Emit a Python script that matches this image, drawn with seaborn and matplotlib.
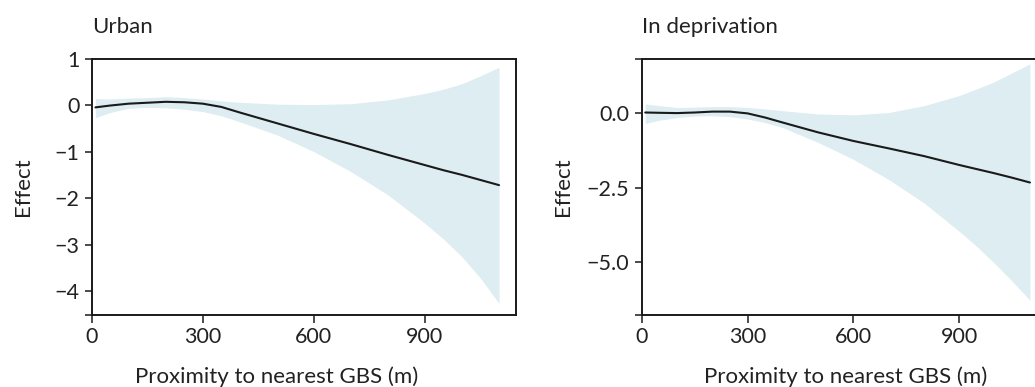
import matplotlib
matplotlib.use("Agg")
import matplotlib.pyplot as plt
import seaborn as sns
import pandas as pd

# Proximity to nearest GBS (m)
distance = [10, 50, 100, 150, 200, 250, 300, 350, 400, 500, 600, 700, 800, 900, 950, 1000, 1050, 1100]

# Urban effect with confidence band
urban_fit = [-0.05, -0.01, 0.03, 0.05, 0.07, 0.06, 0.03, -0.04, -0.16, -0.39, -0.62, -0.84, -1.07, -1.29, -1.40, -1.50, -1.61, -1.72]
urban_upper = [0.14, 0.13, 0.15, 0.16, 0.18, 0.16, 0.13, 0.09, 0.06, 0.02, 0.01, 0.03, 0.11, 0.25, 0.34, 0.46, 0.63, 0.81]
urban_lower = [-0.27, -0.16, -0.07, -0.05, -0.06, -0.09, -0.14, -0.23, -0.36, -0.64, -1.00, -1.43, -1.93, -2.54, -2.88, -3.26, -3.72, -4.26]

# In-deprivation effect with confidence band
depriv_fit = [0.03, 0.02, 0.01, 0.03, 0.06, 0.06, 0.00, -0.14, -0.31, -0.64, -0.93, -1.18, -1.44, -1.74, -1.88, -2.02, -2.17, -2.33]
depriv_upper = [0.32, 0.26, 0.20, 0.21, 0.23, 0.23, 0.20, 0.15, 0.09, -0.02, -0.05, 0.03, 0.26, 0.60, 0.83, 1.07, 1.37, 1.67]
depriv_lower = [-0.34, -0.23, -0.14, -0.09, -0.08, -0.11, -0.19, -0.31, -0.48, -0.98, -1.55, -2.23, -3.02, -3.98, -4.49, -5.06, -5.66, -6.30]

panel_titles = ["Urban", "In deprivation"]
x_ticks = [0, 300, 600, 900]
urban_yticks = [1, 0, -1, -2, -3, -4]
depriv_yticks = [0.0, -2.5, -5.0]

sns.set_theme(style="ticks")
plt.rcParams["font.family"] = ["Lato", "DejaVu Sans"]

INK = "#222222"
BAND = "#deedf1"

fig = plt.figure(figsize=(10.35, 3.87), dpi=100)
ax_l = fig.add_axes([0.0886, 0.1873, 0.410, 0.6615])
ax_r = fig.add_axes([0.620, 0.1873, 0.3908, 0.6615])

panels = [
    (ax_l, urban_fit, urban_upper, urban_lower, (-4.5, 1.0), urban_yticks,
     [f"{v:g}".replace("-", "\u2212") for v in urban_yticks], -0.163, 0.436),
    (ax_r, depriv_fit, depriv_upper, depriv_lower, (-6.78, 1.85), depriv_yticks,
     [f"{v:.1f}".replace("-", "\u2212") for v in depriv_yticks], -0.1946, 0.504),
]

for (ax, fit, up, lo, ylim, yt, ytl, ylab_x, xlab_x), title in zip(panels, panel_titles):
    df = pd.DataFrame({"distance": distance, "effect": fit})
    ax.fill_between(distance, lo, up, color=BAND, linewidth=0, zorder=1)
    sns.lineplot(data=df, x="distance", y="effect", ax=ax, color="#1a1a1a",
                 linewidth=1.5, zorder=3)

    ax.set_xlim(0, 1146)
    ax.set_ylim(*ylim)
    ax.set_xticks(x_ticks)
    ax.set_xticklabels([str(t) for t in x_ticks])
    ax.set_yticks(yt)
    ax.set_yticklabels(ytl)
    ax.set_yticks([ylim[0], ylim[1]], minor=True)

    for sp in ax.spines.values():
        sp.set_visible(True)
        sp.set_color("#1a1a1a")
        sp.set_linewidth(1.4)

    ax.tick_params(which="both", direction="out", length=5.4, width=1.1,
                   color="#1a1a1a", labelsize=15.5, labelcolor=INK, pad=3.5)
    ax.tick_params(axis="y", which="minor", left=True)

    ax.set_title(title, loc="left", fontsize=16, color=INK, pad=18.5)
    ax.set_xlabel("Proximity to nearest GBS (m)", fontsize=16, color=INK)
    ax.set_ylabel("Effect", fontsize=16, color=INK)
    ax.yaxis.label.set_va("center")
    ax.yaxis.set_label_coords(ylab_x, 0.5)
    ax.xaxis.label.set_va("baseline")
    ax.xaxis.set_label_coords(xlab_x, -0.269)
    ax.grid(False)

fig.savefig("out.png", dpi=100)
